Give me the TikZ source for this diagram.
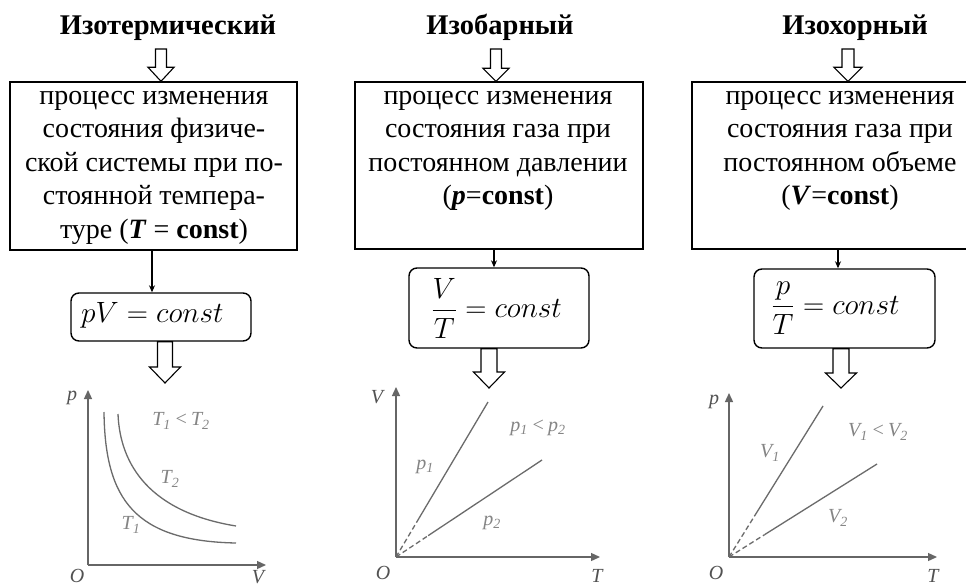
\documentclass[tikz,border=0pt]{standalone}
\usepackage{amsmath}
\usepackage{graphicx}
\usepackage{fontspec}
\setmainfont{Liberation Serif}
\usetikzlibrary{arrows.meta,calc}

% hollow block arrow pointing down: from (#1) to (#2),
% shaft half width #3, head half width #4, head length #5 (pt)
\newcommand\fatarrow[5]{%
  \draw[fatline] let \p1=(#1), \p2=(#2) in
    (\x1-#3pt,\y1) -- (\x1+#3pt,\y1) -- (\x1+#3pt,\y2+#5pt) -- (\x1+#4pt,\y2+#5pt)
    -- (\x1,\y2) -- (\x1-#4pt,\y2+#5pt) -- (\x1-#3pt,\y2+#5pt) -- cycle;}
% enlarged formula
\newcommand\bigformula[1]{\scalebox{1.18}{$#1$}}

\definecolor{axiscol}{gray}{0.40}
\definecolor{curvecol}{gray}{0.42}
\definecolor{lblcol}{gray}{0.52}

\begin{document}
\begin{tikzpicture}[x=1pt,y=-1pt,
  title/.style={font=\fontsize{28.5}{32}\selectfont\bfseries, inner sep=0pt, anchor=base},
  procbox/.style={draw, line width=1.4pt, inner sep=0pt},
  proctext/.style={font=\fontsize{28}{33.5}\selectfont, align=center, inner sep=0pt, anchor=north},
  rbox/.style={draw, line width=1.4pt, rounded corners=8pt, inner sep=0pt},
  formula/.style={font=\fontsize{24.88}{28}\selectfont, inner sep=0pt},
  fatline/.style={draw, line width=1.1pt, fill=white, line join=miter},
  conn/.style={line width=1.1pt, -{Stealth[length=7pt,width=6pt]}},
  axis/.style={draw=axiscol, line width=1.3pt, -{Triangle[length=9pt,width=8pt]}},
  curve/.style={draw=curvecol, line width=1.3pt},
  glabel/.style={text=lblcol, font=\fontsize{20}{22}\selectfont\itshape, inner sep=0pt},
  alabel/.style={text=black!68, font=\fontsize{20}{22}\selectfont\itshape, inner sep=0pt},
]
\clip (0,0) rectangle (966,586);
\fill[white] (0,0) rectangle (966,586);

% ---- titles ----
\node[title] (h1) at (168,35) {Изотермический};
\node[title] (h2) at (500,35) {Изобарный};
\node[title] (h3) at (855,35) {Изохорный};

% ---- process boxes ----
\node[procbox, minimum width=287, minimum height=168] (b1) at (153.5,166) {};
\node[procbox, minimum width=288, minimum height=167] (b2) at (499,165.5) {};
\node[procbox, minimum width=292, minimum height=167] (b3) at (838,165.5) {};

\node[proctext] (t1) at (154,91) {процесс изменения\\состояния физиче-\\ской системы при по-\\стоянной темпера-\\туре (\textbf{\textit{T}} = \textbf{const})};
\node[proctext] (t2) at (498,91) {процесс изменения\\состояния газа при\\постоянном давлении\\(\textbf{\textit{p}}=\textbf{const})};
\node[proctext] (t3) at (840,91) {процесс изменения\\состояния газа при\\постоянном объеме\\(\textbf{\textit{V}}=\textbf{const})};

% ---- hollow arrows: title -> box ----
\coordinate (s1) at (161,49);
\coordinate (s2) at (496,49);
\coordinate (s3) at (848,49);
\fatarrow{s1}{s1 |- b1.north}{5.5}{13}{14}
\fatarrow{s2}{s2 |- b2.north}{5.5}{13}{13}
\fatarrow{s3}{s3 |- b3.north}{6}{14}{14}

% ---- law boxes ----
\node[rbox, minimum width=180, minimum height=48] (r1) at (161,317) {};
\node[rbox, minimum width=180, minimum height=80] (r2) at (499,308) {};
\node[rbox, minimum width=181, minimum height=79] (r3) at (844.5,308.5) {};

\node[formula, anchor=west] (f1) at (81,315) {\bigformula{pV = const}};
\node[formula, anchor=west] (f2) at (431,308) {\bigformula{\dfrac{V}{T} = const}};
\node[formula, anchor=west] (f3) at (771,308) {\bigformula{\dfrac{p}{T} = const}};

% ---- thin arrows: box -> law ----
\coordinate (c1) at (152,0);
\coordinate (c2) at (494,0);
\coordinate (c3) at (838,0);
\draw[conn] (c1 |- b1.south) -- (c1 |- r1.north);
\draw[conn] (c2 |- b2.south) -- (c2 |- r2.north);
\draw[conn] (c3 |- b3.south) -- (c3 |- r3.north);

% ---- hollow arrows: law -> graph ----
\coordinate (d1) at (165,0);
\coordinate (d2) at (489,0);
\coordinate (d3) at (841,0);
\coordinate (e1) at (165,383);
\coordinate (e2) at (489,388);
\coordinate (e3) at (841,388);
\fatarrow{d1 |- r1.south}{e1}{7.5}{15.5}{16}
\fatarrow{d2 |- r2.south}{e2}{8}{15.5}{16}
\fatarrow{d3 |- r3.south}{e3}{8}{15.5}{15}

% ---- isotherm graph ----
\coordinate (o1) at (88,565);
\draw[axis] (o1) -- (88,390);
\draw[axis] (o1) -- (266,565);
\node[alabel] (p1l) at (72,398) {p};
\node[alabel] (o1l) at (77,576) {O};
\node[alabel] (v1l) at (258,577) {V};
\draw[curve] (104,412) .. controls (105,500) and (135,541) .. (236,543);
\draw[curve] (118,414) .. controls (120,465) and (150,512) .. (236,526);
\node[glabel] (l1a) at (181,421) {T\textsubscript{1}\,<\,T\textsubscript{2}};
\node[glabel] (l1b) at (170,479) {T\textsubscript{2}};
\node[glabel] (l1c) at (131,525) {T\textsubscript{1}};

% ---- isobar graph ----
\coordinate (o2) at (396,557);
\draw[axis] (o2) -- (396,387);
\draw[axis] (o2) -- (600,557);
\node[alabel] (v2l) at (377,397) {V};
\node[alabel] (o2l) at (383,573) {O};
\node[alabel] (t2l) at (597,576) {T};
\coordinate (q2a) at (488,402);
\coordinate (q2b) at (542,460);
\draw[curve, dash pattern=on 5pt off 3pt] (o2) -- ($(o2)!0.25!(q2a)$);
\draw[curve] ($(o2)!0.25!(q2a)$) -- (q2a);
\draw[curve, dash pattern=on 5pt off 3pt] (o2) -- ($(o2)!0.22!(q2b)$);
\draw[curve] ($(o2)!0.22!(q2b)$) -- (q2b);
\node[glabel] (l2a) at (538,428) {p\textsubscript{1}\,<\,p\textsubscript{2}};
\node[glabel] (l2b) at (425,467) {p\textsubscript{1}};
\node[glabel] (l2c) at (492,523) {p\textsubscript{2}};

% ---- isochore graph ----
\coordinate (o3) at (729,557);
\draw[axis] (o3) -- (729,393);
\draw[axis] (o3) -- (937,557);
\node[alabel] (p3l) at (714,402) {p};
\node[alabel] (o3l) at (716,573) {O};
\node[alabel] (t3l) at (933,576) {T};
\coordinate (q3a) at (823,406);
\coordinate (q3b) at (877,464);
\draw[curve, dash pattern=on 5pt off 3pt] (o3) -- ($(o3)!0.27!(q3a)$);
\draw[curve] ($(o3)!0.27!(q3a)$) -- (q3a);
\draw[curve, dash pattern=on 5pt off 3pt] (o3) -- ($(o3)!0.24!(q3b)$);
\draw[curve] ($(o3)!0.24!(q3b)$) -- (q3b);
\node[glabel] (l3a) at (878,432) {V\textsubscript{1}\,<\,V\textsubscript{2}};
\node[glabel] (l3b) at (770,453) {V\textsubscript{1}};
\node[glabel] (l3c) at (838,518) {V\textsubscript{2}};
\end{tikzpicture}
\end{document}
